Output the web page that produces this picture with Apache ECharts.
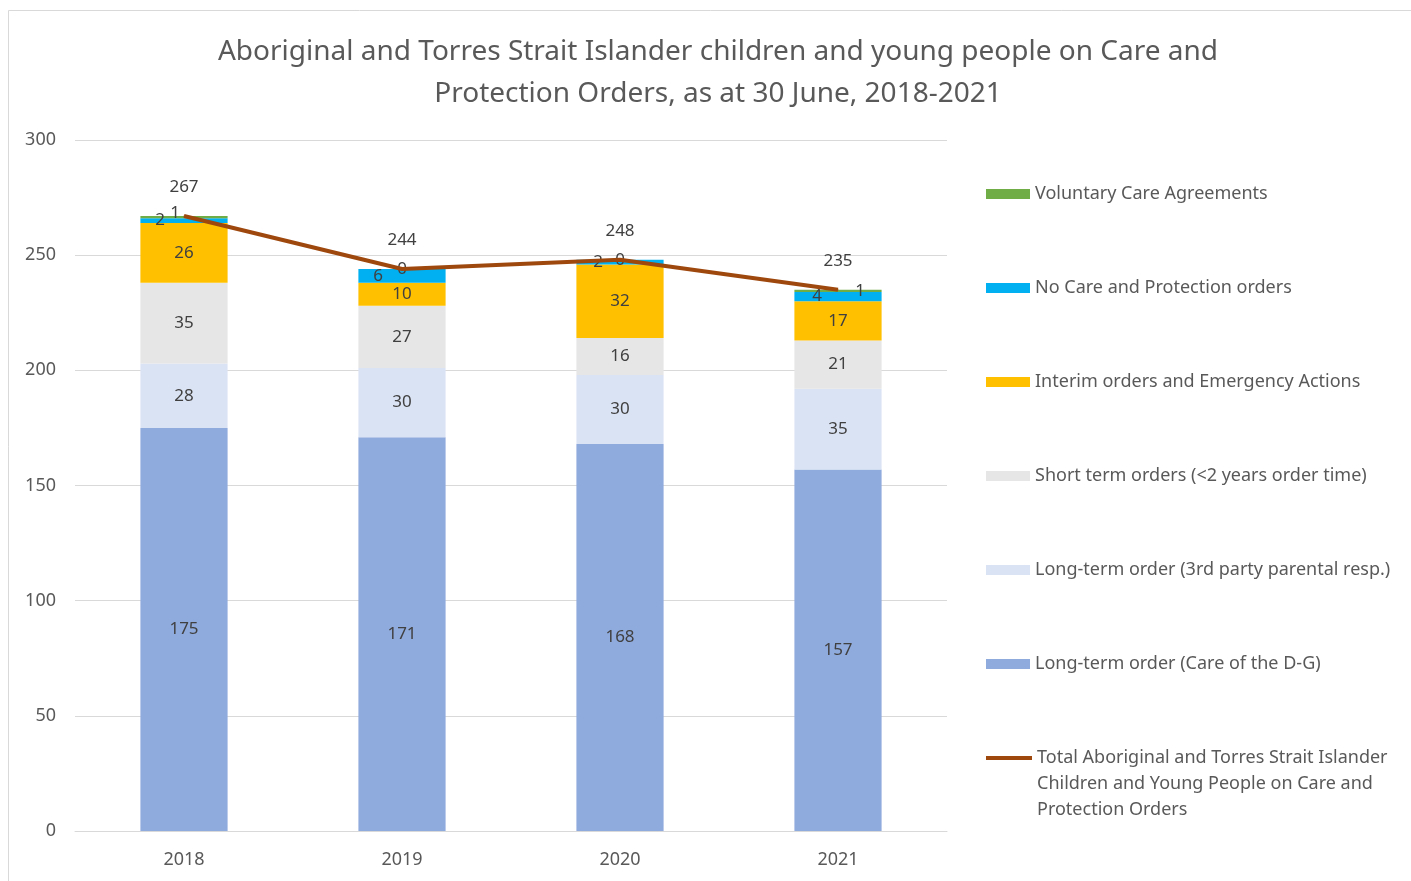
<!DOCTYPE html>
<html>
<head>
<meta charset="utf-8">
<script src="https://cdn.jsdelivr.net/npm/echarts@6/dist/echarts.min.js"></script>
<style>
  html, body { margin: 0; padding: 0; background: #fff; }
  #chart { width: 1411px; height: 881px; }
</style>
</head>
<body>
<div id="chart"></div>
<script>
// Years on the category axis
const years = ['2018', '2019', '2020', '2021'];

// Order types, stacked bottom to top
const longTermDG = [175, 171, 168, 157];
const longTermThirdParty = [28, 30, 30, 35];
const shortTerm = [35, 27, 16, 21];
const interimEmergency = [26, 10, 32, 17];
const noCareProtection = [2, 6, 2, 4];
const voluntaryCare = [1, 0, 0, 1];

// Total across all order types
const totals = [267, 244, 248, 235];

// Value axis ticks
const yTicks = [0, 50, 100, 150, 200, 250, 300];

const seriesNames = [
  'Long-term order (Care of the D-G)',
  'Long-term order (3rd party parental resp.)',
  'Short term orders (<2 years order time)',
  'Interim orders and Emergency Actions',
  'No Care and Protection orders',
  'Voluntary Care Agreements'
];
const totalName = 'Total Aboriginal and Torres Strait Islander\nChildren and Young People on Care and\nProtection Orders';

const colors = ['#8FAADC', '#DAE3F3', '#E7E6E6', '#FFC000', '#00B0F0', '#70AD47'];
const LINE_COLOR = '#9E480E';
const FONT = 'Noto Sans';
const TEXT = '#595959';

// Nudges for labels of the thin top segments so they don't sit on each other
const labelNudges = {
  4: [[-24, 0], [-24, 0], [-22, 0], [-21, 0]],
  5: [[-9, -4], [0, 0], [0, 0], [22, 0]]
};

const stacks = [longTermDG, longTermThirdParty, shortTerm, interimEmergency, noCareProtection, voluntaryCare];

const barSeries = stacks.map((vals, i) => ({
  name: seriesNames[i],
  type: 'bar',
  stack: 'orders',
  barWidth: '40%',
  itemStyle: { color: colors[i] },
  label: {
    show: true,
    position: 'inside',
    color: '#404040',
    fontFamily: FONT,
    fontSize: 17
  },
  data: vals.map((v, j) => {
    const item = { value: v };
    if (labelNudges[i]) item.label = { offset: labelNudges[i][j] };
    return item;
  })
}));

const chart = echarts.init(document.getElementById('chart'));
chart.setOption({
  animation: false,
  backgroundColor: '#fff',
  graphic: [{
    type: 'rect',
    shape: { x: 8.5, y: 10.5, width: 1410, height: 880 },
    style: { fill: 'none', stroke: '#D9D9D9', lineWidth: 1 },
    silent: true
  }],
  title: {
    text: 'Aboriginal and Torres Strait Islander children and young people on Care and\nProtection Orders, as at 30 June, 2018-2021',
    left: 713,
    top: 26,
    textAlign: 'center',
    textStyle: {
      fontFamily: FONT,
      fontSize: 28,
      fontWeight: 'normal',
      color: TEXT,
      lineHeight: 42
    }
  },
  legend: [{
    orient: 'vertical',
    left: 986,
    top: 184,
    padding: 0,
    itemWidth: 44,
    itemHeight: 10,
    itemGap: 74,
    icon: 'rect',
    data: seriesNames.slice().reverse(),
    textStyle: { fontFamily: FONT, fontSize: 18, color: TEXT, lineHeight: 20 }
  }, {
    // Total line: plain thick stroke as the key, text starting level with it
    orient: 'vertical',
    left: 986,
    top: 693,
    padding: 0,
    itemWidth: 46,
    itemHeight: 4,
    icon: 'rect',
    data: [totalName],
    formatter: name => '\n\n' + name,
    textStyle: { fontFamily: FONT, fontSize: 18, color: TEXT, lineHeight: 26 }
  }],
  grid: { left: 75, right: 464, top: 140, bottom: 50 },
  xAxis: {
    type: 'category',
    data: years,
    axisLine: { lineStyle: { color: '#D9D9D9' } },
    axisTick: { show: false },
    axisLabel: { color: TEXT, fontFamily: FONT, fontSize: 18, margin: 20 }
  },
  yAxis: {
    type: 'value',
    min: yTicks[0],
    max: yTicks[yTicks.length - 1],
    interval: yTicks[1] - yTicks[0],
    axisLine: { show: false },
    axisTick: { show: false },
    splitLine: { lineStyle: { color: '#D9D9D9' } },
    axisLabel: { color: TEXT, fontFamily: FONT, fontSize: 18, margin: 19 }
  },
  series: barSeries.concat([{
    name: totalName,
    type: 'line',
    data: totals,
    symbol: 'circle',
    symbolSize: 1,
    z: 5,
    lineStyle: { color: LINE_COLOR, width: 4 },
    itemStyle: { color: LINE_COLOR },
    label: {
      show: true,
      position: 'top',
      distance: 20,
      color: '#404040',
      fontFamily: FONT,
      fontSize: 17
    }
  }])
});
</script>
</body>
</html>
